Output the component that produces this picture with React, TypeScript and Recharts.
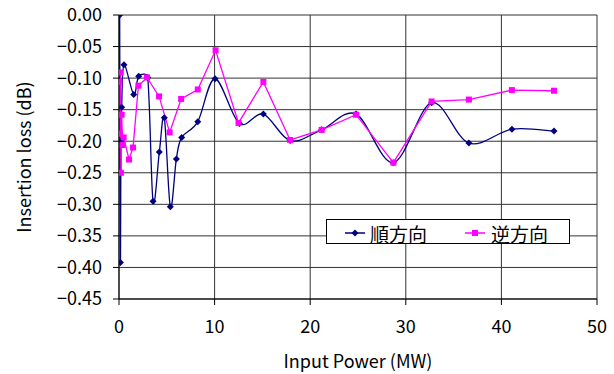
import { LineChart, Line, XAxis, YAxis, CartesianGrid } from 'recharts';

// forward direction (順方向)
const fwdPower = [0.07, 0.15, 0.2, 0.28, 0.52, 1.54, 2.06, 3.0, 3.56, 4.22, 4.74, 5.37, 6.0, 6.56, 8.24, 10.05, 12.6, 15.1, 17.9, 21.2, 24.8, 28.7, 32.7, 36.6, 41.1, 45.5];
const fwdLoss = [0, -0.392, -0.2, -0.146, -0.079, -0.126, -0.097, -0.099, -0.295, -0.217, -0.163, -0.304, -0.228, -0.194, -0.169, -0.101, -0.172, -0.157, -0.199, -0.182, -0.157, -0.234, -0.139, -0.203, -0.181, -0.184];

// reverse direction (逆方向)
const revPower = [0.05, 0.1, 0.15, 0.2, 0.28, 0.38, 0.49, 1.05, 1.47, 2.03, 2.93, 4.19, 5.3, 6.5, 8.24, 10.1, 12.5, 15.1, 17.9, 21.2, 24.8, 28.7, 32.7, 36.6, 41.1, 45.5];
const revLoss = [-0.106, -0.188, -0.091, -0.25, -0.158, -0.206, -0.194, -0.229, -0.21, -0.112, -0.099, -0.129, -0.186, -0.133, -0.118, -0.056, -0.171, -0.106, -0.198, -0.182, -0.158, -0.234, -0.137, -0.134, -0.119, -0.12];

const xTicks = [0, 10, 20, 30, 40, 50];
const yTicks = [0, -0.05, -0.1, -0.15, -0.2, -0.25, -0.3, -0.35, -0.4, -0.45];

const FWD_COLOR = '#000080';
const REV_COLOR = '#ff00ff';
const FONT = '"Noto Sans CJK JP", "Noto Sans", sans-serif';

const fwdData = fwdPower.map((x, i) => ({ x, y: fwdLoss[i] }));
const revData = revPower.map((x, i) => ({ x, y: revLoss[i] }));

const dist = (a: number[], b: number[]) => Math.hypot(a[0] - b[0], a[1] - b[1]);

// Excel-like smoothed line: bezier with 1/6 tangents, capped to half the segment
function smoothCurve(context: any) {
  let pts: number[][] = [];
  return {
    areaStart() {},
    areaEnd() {},
    lineStart() {
      pts = [];
    },
    point(x: number, y: number) {
      pts.push([+x, +y]);
    },
    lineEnd() {
      if (!pts.length) return;
      context.moveTo(pts[0][0], pts[0][1]);
      for (let i = 0; i < pts.length - 1; i++) {
        const p0 = pts[i - 1] || pts[i];
        const p1 = pts[i];
        const p2 = pts[i + 1];
        const p3 = pts[i + 2] || p2;
        const d12 = dist(p1, p2);
        const d02 = dist(p0, p2);
        const d13 = dist(p1, p3);
        let f1 = 1 / 6;
        let f2 = 1 / 6;
        if (d02 / 6 > d12 / 2 && d02 > 0) f1 = d12 / (2 * d02);
        if (d13 / 6 > d12 / 2 && d13 > 0) f2 = d12 / (2 * d13);
        context.bezierCurveTo(
          p1[0] + (p2[0] - p0[0]) * f1,
          p1[1] + (p2[1] - p0[1]) * f1,
          p2[0] - (p3[0] - p1[0]) * f2,
          p2[1] - (p3[1] - p1[1]) * f2,
          p2[0],
          p2[1]
        );
      }
    },
  };
}

function Diamond({ cx, cy }: { cx?: number; cy?: number }) {
  if (cx == null || cy == null) return null;
  return <path d={`M${cx},${cy - 3.5}L${cx + 3.5},${cy}L${cx},${cy + 3.5}L${cx - 3.5},${cy}Z`} fill={FWD_COLOR} />;
}

function Square({ cx, cy }: { cx?: number; cy?: number }) {
  if (cx == null || cy == null) return null;
  return <rect x={cx - 3} y={cy - 3} width={6} height={6} fill={REV_COLOR} />;
}

function LegendBox() {
  return (
    <div
      style={{
        position: 'absolute',
        left: 326,
        top: 219,
        width: 242,
        height: 23,
        border: '1px solid #000',
        background: '#fff',
        display: 'flex',
        alignItems: 'center',
        fontFamily: FONT,
        fontSize: 19,
        lineHeight: '23px',
        color: '#000',
      }}
    >
      <svg width={20} height={10} style={{ marginLeft: 18, marginTop: 2 }}>
        <line x1={0} y1={5} x2={20} y2={5} stroke={FWD_COLOR} strokeWidth={1.5} />
        <path d="M10,1.5L13.5,5L10,8.5L6.5,5Z" fill={FWD_COLOR} />
      </svg>
      <span style={{ marginLeft: 5, marginTop: 3 }}>順方向</span>
      <svg width={20} height={10} style={{ marginLeft: 38, marginTop: 2 }}>
        <line x1={0} y1={5} x2={20} y2={5} stroke={REV_COLOR} strokeWidth={1.5} />
        <rect x={7} y={2} width={6} height={6} fill={REV_COLOR} />
      </svg>
      <span style={{ marginLeft: 6, marginTop: 3 }}>逆方向</span>
    </div>
  );
}

export default function App() {
  return (
    <div style={{ position: 'absolute', left: 0, top: 0, width: 614, height: 374, background: '#fff' }}>
      <LineChart width={614} height={374} margin={{ top: 15, right: 17, left: 0, bottom: 0 }}>
        <CartesianGrid stroke="#333" strokeWidth={1} />
        <XAxis
          type="number"
          dataKey="x"
          domain={[0, 50]}
          ticks={xTicks}
          height={75}
          stroke="#000"
          tickSize={6}
          tickMargin={15}
          tick={{ fill: '#000', fontSize: 18, fontFamily: FONT }}
          label={{ value: 'Input Power (MW)', position: 'insideBottom', offset: 6, fill: '#000', fontSize: 18, fontFamily: FONT }}
          allowDataOverflow
        />
        <YAxis
          type="number"
          domain={[-0.45, 0]}
          ticks={yTicks}
          width={119}
          stroke="#000"
          tickSize={6}
          tickMargin={11}
          tick={{ fill: '#000', fontSize: 18, fontFamily: FONT }}
          tickFormatter={(v: number) => (v === 0 ? '0.00' : '−' + Math.abs(v).toFixed(2))}
          label={{ value: 'Insertion loss (dB)', angle: -90, position: 'insideLeft', offset: 25, fill: '#000', fontSize: 18, fontFamily: FONT, textAnchor: 'middle' }}
          allowDataOverflow
        />
        <Line
          data={fwdData}
          dataKey="y"
          name="順方向"
          type={smoothCurve as any}
          stroke={FWD_COLOR}
          strokeWidth={1.3}
          dot={(p: any) => <Diamond key={`f-${p.index}`} cx={p.cx} cy={p.cy} />}
          activeDot={false}
          isAnimationActive={false}
        />
        <Line
          data={revData}
          dataKey="y"
          name="逆方向"
          type="linear"
          stroke={REV_COLOR}
          strokeWidth={1.3}
          dot={(p: any) => <Square key={`r-${p.index}`} cx={p.cx} cy={p.cy} />}
          activeDot={false}
          isAnimationActive={false}
        />
      </LineChart>
      <LegendBox />
    </div>
  );
}
